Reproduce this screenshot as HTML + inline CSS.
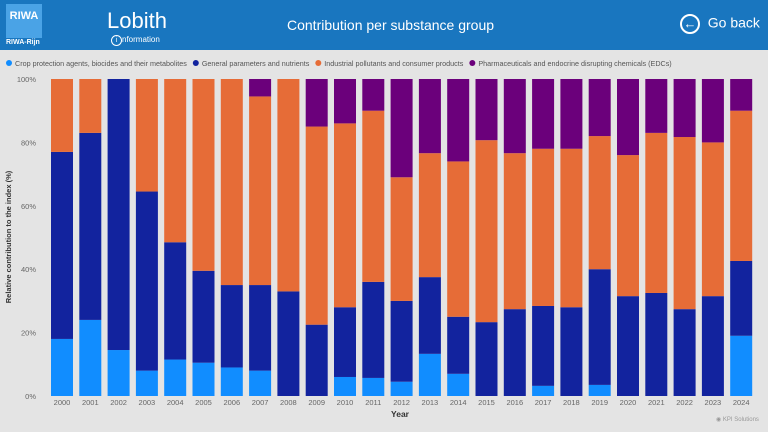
<!DOCTYPE html>
<html><head><meta charset="utf-8"><style>
body{margin:0;width:768px;height:432px;overflow:hidden;background:#e4e4e4;font-family:"Liberation Sans",sans-serif;position:relative}
#hdr{position:absolute;left:0;top:0;width:768px;height:50px;background:#1976bf;color:#fff}
svg text{font-family:"Liberation Sans",sans-serif}
</style></head><body>
<div id="hdr">
 <div style="position:absolute;left:6px;top:4px;width:36px;height:34px;background:#4aa3e6;color:#fff;font-weight:bold;font-size:11px;text-align:center;line-height:24px">RIWA</div>
 <div style="position:absolute;left:6px;top:39px;font-size:7px;font-weight:bold">RIWA-Rijn</div>
 <div style="position:absolute;left:107px;top:8px;font-size:22px">Lobith</div>
 <div style="position:absolute;left:111px;top:35px;font-size:8px"><span style="display:inline-block;width:9px;height:9px;border:1px solid #fff;border-radius:50%;text-align:center;line-height:9px;font-size:7px">i</span>nformation</div>
 <div style="position:absolute;left:287px;top:17px;font-size:14px">Contribution per substance group</div>
 <div style="position:absolute;left:680px;top:14px;font-size:14px"><span style="display:inline-block;width:16px;height:16px;border:2px solid #fff;border-radius:50%;text-align:center;line-height:16px;font-size:13px;vertical-align:middle">&#8592;</span>&nbsp; Go back</div>
</div>
<svg id="chart" width="768" height="432" style="position:absolute;left:0;top:0"></svg>
<div style="position:absolute;left:716px;top:416px;font-size:6px;color:#999">&#9673; KPI Solutions</div>
<script>
const years=[2000,2001,2002,2003,2004,2005,2006,2007,2008,2009,2010,2011,2012,2013,2014,2015,2016,2017,2018,2019,2020,2021,2022,2023,2024];
const crop=[18,24,14.5,8,11.5,10.5,9,8,0,0,6,5.7,4.5,13.3,7,0,0,3.2,0,3.5,0,0,0,0,19];
const general=[59,59,85.5,56.5,37,29,26,27,33,22.5,22,30.3,25.5,24.2,18,23.3,27.4,25.2,28,36.5,31.5,32.5,27.4,31.5,23.6];
const industrial=[23,17,0,35.5,51.5,60.5,65,59.5,67,62.5,58,54,39,39.1,49,57.4,49.2,49.6,50,42,44.5,50.5,54.3,48.5,47.4];
const pharma=[0,0,0,0,0,0,0,5.5,0,15,14,10,31,23.4,26,19.3,23.4,22,22,18,24,17,18.3,20,10];
const yTicks=[0,20,40,60,80,100];
const seriesNames=["Crop protection agents, biocides and their metabolites","General parameters and nutrients","Industrial pollutants and consumer products","Pharmaceuticals and endocrine disrupting chemicals (EDCs)"];
const colors=["#118dff","#12239e","#e66c37","#6b007b"];
const NS="http://www.w3.org/2000/svg",svg=document.getElementById('chart');
const y0=396,y1=79,x0=51,pitch=28.3,bw=22;
const ys=v=>y0-(v/100)*(y0-y1);
const xs=i=>x0+i*pitch;
function mk(t,a,txt){const e=document.createElementNS(NS,t);for(const k in a)e.setAttribute(k,a[k]);if(txt!=null)e.textContent=txt;svg.appendChild(e);return e;}
// legend
let lx=6;
seriesNames.forEach((n,i)=>{
 const c=mk('circle',{cx:lx+3,cy:63,r:3,fill:colors[i]});
 
 
 const t=mk('text',{x:lx+9,y:66,'font-size':7.2,fill:'#555'},n);
 
 
 lx+=9+t.getComputedTextLength()+6;
});
yTicks.forEach(v=>{
 const t=mk('text',{x:36,y:ys(v)+3,'font-size':7.5,fill:'#666','text-anchor':'end'},v+'%');
 
 
});
const yt=mk('text',{x:11,y:237,'font-size':7.5,'font-weight':'bold',fill:'#333','text-anchor':'middle',transform:'rotate(-90 11 237)'},'Relative contribution to the index (%)');


const xt=mk('text',{x:400,y:417,'font-size':8.5,'font-weight':'bold',fill:'#333','text-anchor':'middle'},'Year');


const series=[crop,general,industrial,pharma];
years.forEach((yr,i)=>{
 let acc=0;
 series.forEach((s,k)=>{
  const v=s[i];if(v<=0)return;
  const r=mk('rect',{x:xs(i),y:ys(acc+v),width:bw,height:ys(acc)-ys(acc+v),fill:colors[k]});
  
  
  acc+=v;
 });
 const t=mk('text',{x:xs(i)+bw/2,y:405,'font-size':7.5,fill:'#666','text-anchor':'middle'},yr);
 
 
});
</script>
</body></html>
